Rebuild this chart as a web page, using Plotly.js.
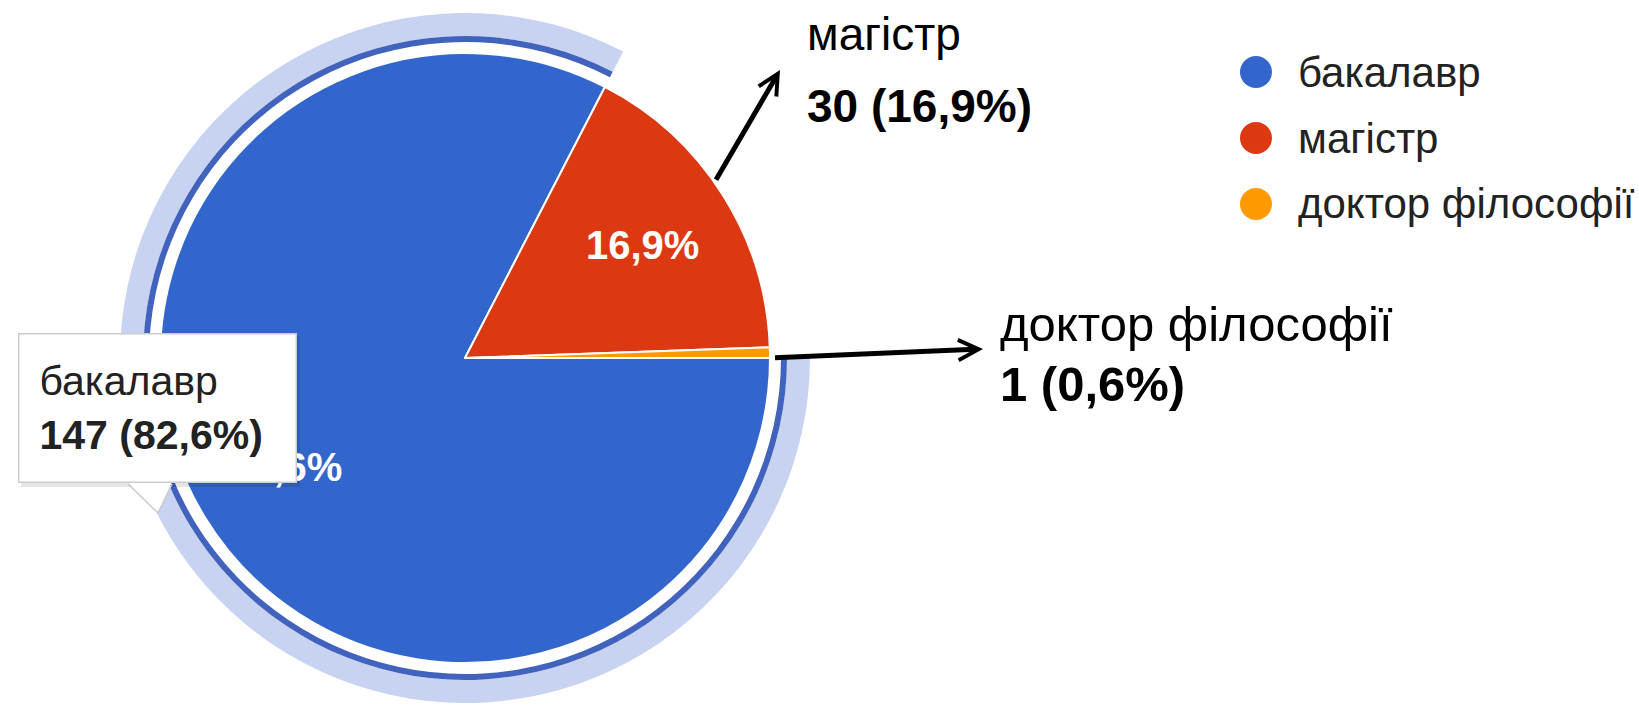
<!DOCTYPE html>
<html>
<head>
<meta charset="utf-8">
<script src="https://cdn.plot.ly/plotly-3.0.1.min.js"></script>
<style>html,body{margin:0;padding:0;background:#fff;}#chart{width:1639px;height:705px;}</style>
</head>
<body>
<div id="chart"></div>
<script>
// ---- data ----
const categories = ['бакалавр', 'магістр', 'доктор філософії'];
const counts = [147, 30, 1];
const colors = ['#3366CC', '#DC3912', '#FF9900'];
const hoveredIndex = 0; // slice shown with tooltip / highlight ring

// ---- helpers ----
const W = 1639, H = 705;
const FONT = "'Liberation Sans', Arial, sans-serif";
const px = x => x / W;
const py = y => 1 - y / H;
const total = counts.reduce((a, b) => a + b, 0);
const pctText = v => (v / total * 100).toFixed(1).replace('.', ',') + '%';

// pie geometry (pixels)
const CX = 465, CY = 358, R = 305, ROTATION = 90;
function domainFor(r) {
  return { x: [px(CX - r), px(CX + r)], y: [py(CY + r), py(CY - r)] };
}

const baseTrace = {
  type: 'pie', labels: categories, values: counts, sort: false,
  direction: 'clockwise', rotation: ROTATION, hoverinfo: 'skip', showlegend: false
};

function ring(outer, inner, color) {
  return Object.assign({}, baseTrace, {
    domain: domainFor(outer), hole: inner / outer,
    marker: { colors: categories.map((c, i) => i === hoveredIndex ? color : 'rgba(0,0,0,0)'),
              line: { width: 0 } },
    textinfo: 'none'
  });
}

const traces = [
  ring(345, 322, '#c7d3f0'),
  ring(322, 316, '#4163be'),
  Object.assign({}, baseTrace, {
    domain: domainFor(R),
    marker: { colors: colors, line: { color: '#ffffff', width: 2 } },
    textinfo: 'none'
  })
];

// ---- decorations ----
const shapes = [];
const annotations = [];

// in-slice percentage labels, placed at the slice mid-angle (Google-chart style)
let cum = 0;
counts.forEach((v, i) => {
  const mid = (ROTATION + (cum + v / 2) / total * 360) * Math.PI / 180;
  cum += v;
  if (v / total < 0.05) return;
  const rr = 0.69 * R;
  annotations.push({ xref: 'paper', yref: 'paper',
    x: px(CX + rr * Math.sin(mid)), y: py(CY - rr * Math.cos(mid)),
    xanchor: 'center', yanchor: 'middle', text: '<b>' + pctText(v) + '</b>', showarrow: false,
    font: { family: FONT, size: 40, color: '#ffffff' } });
});

// outside labels with arrows (магістр, доктор філософії)
const callouts = [
  { idx: 1, x: 805, y1: 34, y2: 106, size: 46, tail: [713, 185], tip: [780, 70] },
  { idx: 2, x: 998, y1: 324, y2: 384, size: 49, tail: [772, 358], tip: [983, 349] }
];
callouts.forEach(c => {
  annotations.push({ xref: 'paper', yref: 'paper', x: px(c.x), y: py(c.y1), xanchor: 'left', yanchor: 'middle',
    text: categories[c.idx], showarrow: false, font: { family: FONT, size: c.size, color: '#000' } });
  annotations.push({ xref: 'paper', yref: 'paper', x: px(c.x), y: py(c.y2), xanchor: 'left', yanchor: 'middle',
    text: '<b>' + counts[c.idx] + ' (' + pctText(counts[c.idx]) + ')</b>', showarrow: false,
    font: { family: FONT, size: c.size, color: '#000' } });
  annotations.push({ xref: 'paper', yref: 'paper', x: px(c.tip[0]), y: py(c.tip[1]),
    ax: c.tail[0] - c.tip[0], ay: c.tail[1] - c.tip[1], text: ' ', showarrow: true,
    arrowhead: 5, arrowsize: 0.8, arrowwidth: 5, arrowcolor: '#000', standoff: 0 });
});

// tooltip for hovered slice (shadow + pointer as shapes, box as annotation)
shapes.push({ type: 'rect', xref: 'paper', yref: 'paper', x0: px(21), x1: px(300), y0: py(336), y1: py(487),
  fillcolor: 'rgba(0,0,0,0.10)', line: { width: 0 }, layer: 'above' });
shapes.push({ type: 'path', xref: 'paper', yref: 'paper',
  path: `M ${px(128)} ${py(482)} L ${px(172)} ${py(482)} L ${px(158)} ${py(513)} Z`,
  fillcolor: '#ffffff', line: { width: 0 }, layer: 'above' });
shapes.push({ type: 'path', xref: 'paper', yref: 'paper',
  path: `M ${px(128)} ${py(484)} L ${px(158)} ${py(513)} L ${px(172)} ${py(484)}`,
  line: { color: '#cccccc', width: 1.5 }, layer: 'above' });
const TIP_PAD = 20, TIP_BW = 1.5;
annotations.push({ xref: 'paper', yref: 'paper', x: px(18), y: py(333), xanchor: 'left', yanchor: 'top',
  text: categories[hoveredIndex] + '<br><b>' + counts[hoveredIndex] + ' (' + pctText(counts[hoveredIndex]) + ')</b>',
  align: 'left', valign: 'middle', showarrow: false,
  width: 279 - 2 * (TIP_PAD + TIP_BW), height: 150 - 2 * (TIP_PAD + TIP_BW),
  bgcolor: '#ffffff', bordercolor: '#cccccc', borderwidth: TIP_BW, borderpad: TIP_PAD,
  font: { family: FONT, size: 41, color: '#222' } });

// legend with round markers
const LEG_X = 1256, LEG_Y0 = 72, LEG_DY = 66, DOT = 16;
categories.forEach((c, i) => {
  const y = LEG_Y0 + i * LEG_DY;
  shapes.push({ type: 'circle', xref: 'paper', yref: 'paper', x0: px(LEG_X - DOT), x1: px(LEG_X + DOT),
    y0: py(y + DOT), y1: py(y - DOT), fillcolor: colors[i], line: { width: 0 }, layer: 'above' });
  annotations.push({ xref: 'paper', yref: 'paper', x: px(1296), y: py(y), xanchor: 'left', yanchor: 'middle',
    text: c, showarrow: false, font: { family: FONT, size: 42, color: '#222' } });
});

const layout = {
  width: W, height: H, margin: { l: 0, r: 0, t: 0, b: 0 },
  paper_bgcolor: '#ffffff', plot_bgcolor: '#ffffff',
  separators: ', ', showlegend: false,
  font: { family: FONT },
  shapes: shapes, annotations: annotations
};

Plotly.newPlot('chart', traces, layout, { displayModeBar: false, staticPlot: true });
</script>
</body>
</html>
